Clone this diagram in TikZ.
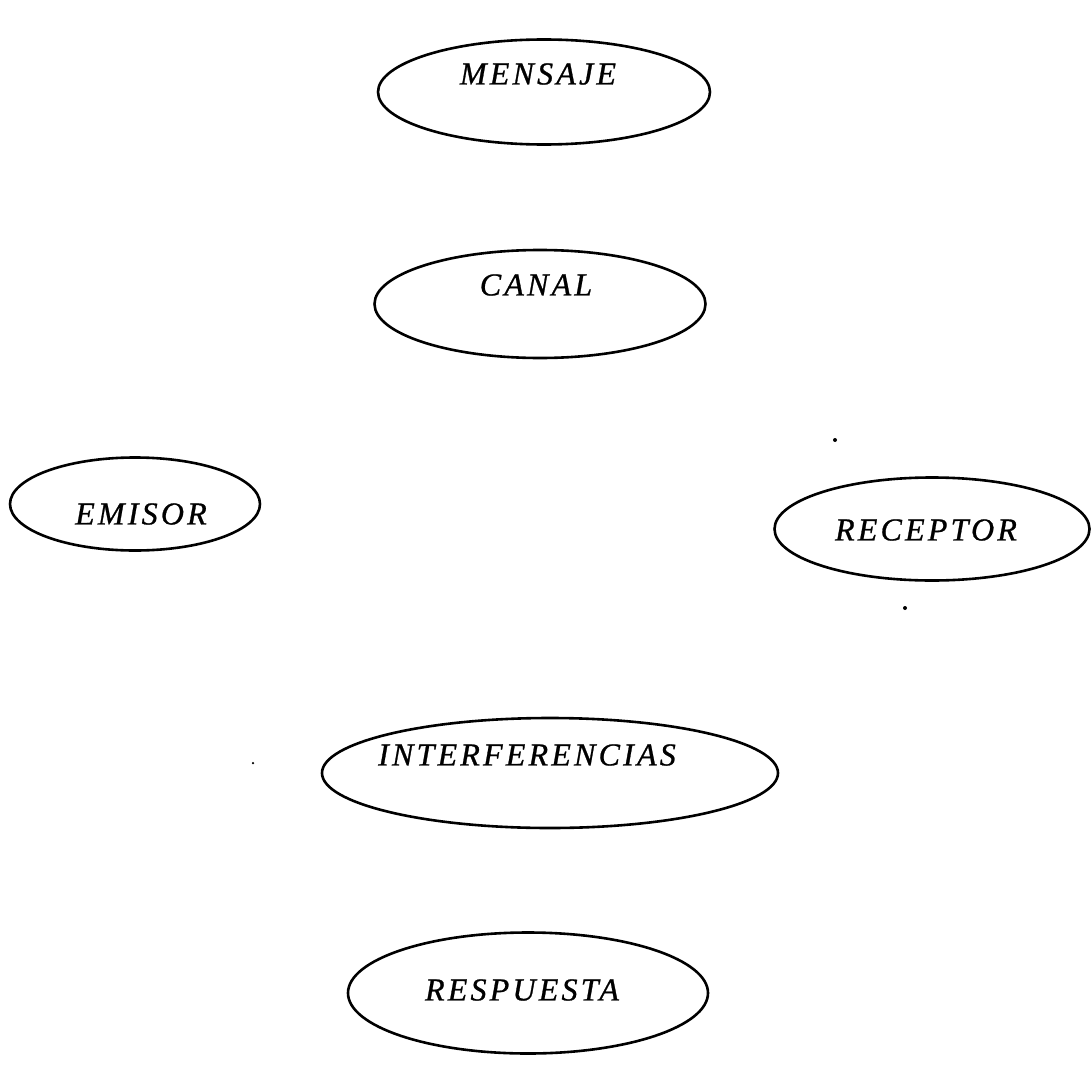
\documentclass[tikz,border=0pt]{standalone}
\usepackage{fontspec}
\setmainfont{Liberation Serif}[LetterSpace=10, FakeBold=0.8]
\usetikzlibrary{shapes.geometric}
\tikzset{
  oval/.style={draw=black, line width=2.6pt, ellipse, inner sep=0pt},
  lbl/.style={font=\fontsize{32}{32}\selectfont\itshape, inner sep=0pt, anchor=center},
  speck/.style={fill=black, circle, inner sep=0pt, minimum size=4pt}
}
\begin{document}
\begin{tikzpicture}[x=1pt,y=-1pt]
\useasboundingbox (0,0) rectangle (1092,1070);
\node[oval, minimum width=332pt, minimum height=105pt] (mensaje) at (544,92) {};
\node[lbl] (tmensaje) at (538,74) {MENSAJE};
\node[oval, minimum width=331pt, minimum height=108pt] (canal) at (540,304) {};
\node[lbl] (tcanal) at (536,285) {CANAL};
\node[oval, minimum width=250pt, minimum height=93pt] (emisor) at (135,504) {};
\node[lbl] (temisor) at (141,514) {EMISOR};
\node[oval, minimum width=315pt, minimum height=103pt] (receptor) at (932,529) {};
\node[lbl] (treceptor) at (926,530) {RECEPTOR};
\node[oval, minimum width=456pt, minimum height=110pt] (interf) at (550,773) {};
\node[lbl] (tinterf) at (527,755) {INTERFERENCIAS};
\node[oval, minimum width=360pt, minimum height=121pt] (respuesta) at (528,993) {};
\node[lbl] (trespuesta) at (522,990) {RESPUESTA};
\node[speck] (s1) at (835,440) {};
\node[speck] (s2) at (905,608) {};
\node[speck, minimum size=2.5pt] (s3) at (253,763) {};
\end{tikzpicture}
\end{document}
